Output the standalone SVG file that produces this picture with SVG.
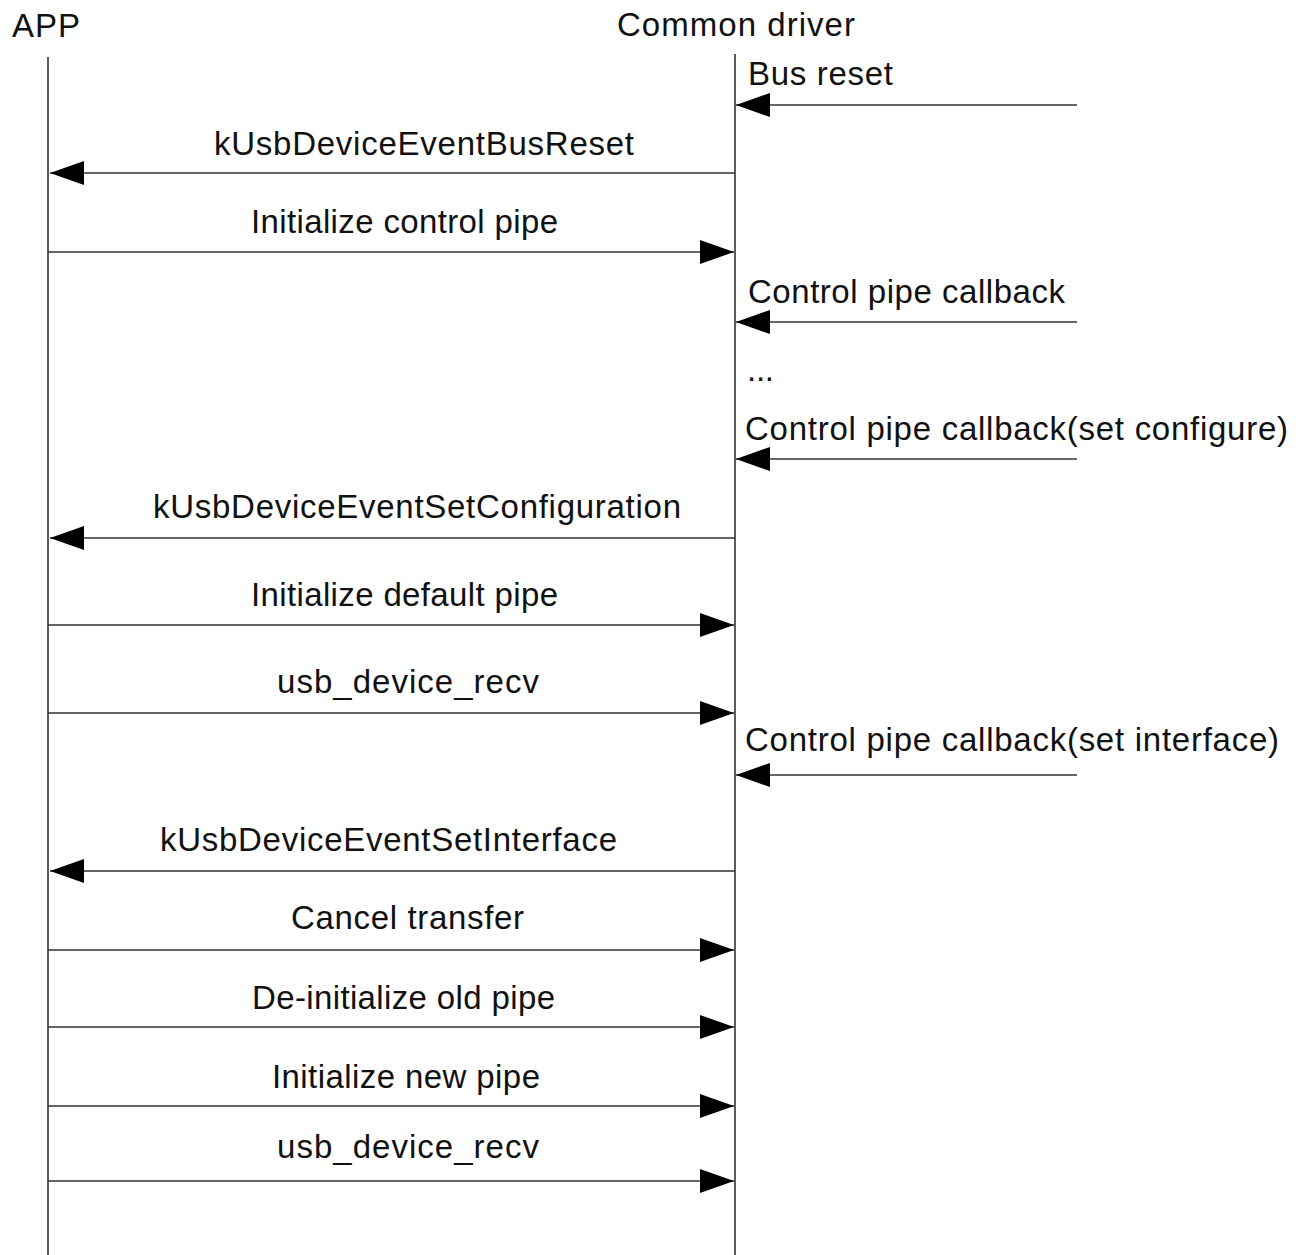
<svg xmlns="http://www.w3.org/2000/svg" width="1300" height="1255" viewBox="0 0 1300 1255">
  <style>
    .t { font-family: "Liberation Sans", Arial, sans-serif; font-size: 33px; fill: #111; }
    .c { text-anchor: middle; }
    .life { stroke: #333; stroke-width: 1.6; fill: none; }
    .msg { stroke: #333; stroke-width: 1.6; fill: none; }
    .msgR { marker-end: url(#head); }
  </style>
  <defs>
    <marker id="head" markerUnits="userSpaceOnUse" markerWidth="36" markerHeight="26" viewBox="0 0 36 26" refX="34" refY="13" orient="auto">
      <path d="M0,1 L34,13 L0,25 Z" fill="#000"/>
    </marker>
  </defs>
  <rect width="1300" height="1255" fill="#fff"/>

  <g id="app">
    <text class="t" x="12" y="37" textLength="68" lengthAdjust="spacing">APP</text>
    <line class="life" x1="48" y1="57" x2="48" y2="1255"/>
  </g>
  <g id="common-driver">
    <text class="t" x="617" y="36" textLength="238" lengthAdjust="spacing">Common driver</text>
    <line class="life" x1="735" y1="54" x2="735" y2="1255"/>
  </g>

  <g id="connectors">
    <line class="msg msgR" x1="1077" y1="105" x2="736" y2="105"/>
    <line class="msg msgR" x1="735" y1="173" x2="50" y2="173"/>
    <line class="msg msgR" x1="48" y1="252" x2="734" y2="252"/>
    <line class="msg msgR" x1="1077" y1="322" x2="736" y2="322"/>
    <line class="msg msgR" x1="1077" y1="459" x2="736" y2="459"/>
    <line class="msg msgR" x1="735" y1="538" x2="50" y2="538"/>
    <line class="msg msgR" x1="48" y1="625" x2="734" y2="625"/>
    <line class="msg msgR" x1="48" y1="713" x2="734" y2="713"/>
    <line class="msg msgR" x1="1077" y1="775" x2="736" y2="775"/>
    <line class="msg msgR" x1="735" y1="871" x2="50" y2="871"/>
    <line class="msg msgR" x1="48" y1="950" x2="734" y2="950"/>
    <line class="msg msgR" x1="48" y1="1027" x2="734" y2="1027"/>
    <line class="msg msgR" x1="48" y1="1106" x2="734" y2="1106"/>
    <line class="msg msgR" x1="48" y1="1181" x2="734" y2="1181"/>
  </g>

  <g id="labels">
    <text class="t" x="748" y="85" textLength="145" lengthAdjust="spacing">Bus reset</text>
    <text class="t c" x="424" y="155" textLength="420" lengthAdjust="spacing">kUsbDeviceEventBusReset</text>
    <text class="t c" x="404.5" y="233" textLength="307" lengthAdjust="spacing">Initialize control pipe</text>
    <text class="t" x="748" y="303" textLength="317" lengthAdjust="spacing">Control pipe callback</text>
    <text class="t" x="747" y="381" textLength="27" lengthAdjust="spacing">...</text>
    <text class="t" x="745" y="440" textLength="543" lengthAdjust="spacing">Control pipe callback(set configure)</text>
    <text class="t c" x="417" y="518" textLength="528" lengthAdjust="spacing">kUsbDeviceEventSetConfiguration</text>
    <text class="t c" x="404.5" y="606" textLength="307" lengthAdjust="spacing">Initialize default pipe</text>
    <text class="t c" x="408" y="693" textLength="262" lengthAdjust="spacing">usb_device_recv</text>
    <text class="t" x="745" y="751" textLength="534" lengthAdjust="spacing">Control pipe callback(set interface)</text>
    <text class="t c" x="388.5" y="851" textLength="457" lengthAdjust="spacing">kUsbDeviceEventSetInterface</text>
    <text class="t c" x="407.5" y="929" textLength="233" lengthAdjust="spacing">Cancel transfer</text>
    <text class="t c" x="403.5" y="1009" textLength="303" lengthAdjust="spacing">De-initialize old pipe</text>
    <text class="t c" x="406" y="1088" textLength="268" lengthAdjust="spacing">Initialize new pipe</text>
    <text class="t c" x="408" y="1158" textLength="262" lengthAdjust="spacing">usb_device_recv</text>
  </g>
</svg>
